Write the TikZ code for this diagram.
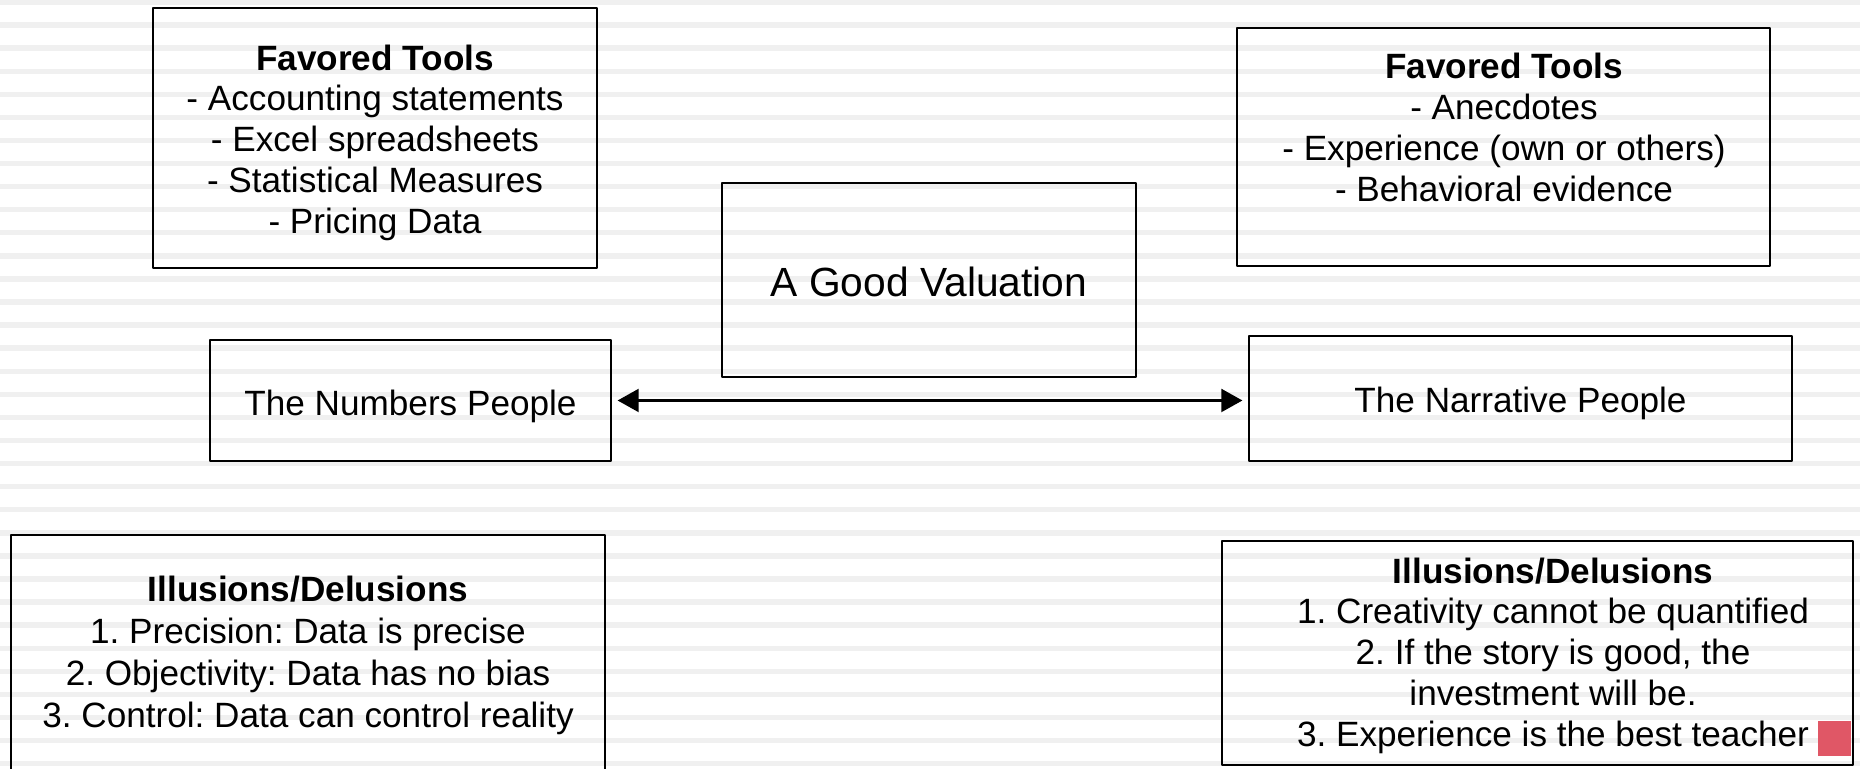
\documentclass[tikz,border=0pt]{standalone}
\usepackage{fontspec}
\setmainfont{Liberation Sans}
\usepackage{tikz}
\usetikzlibrary{calc}
\usetikzlibrary{arrows.meta}
\definecolor{stripegray}{rgb}{0.94,0.94,0.94}
\definecolor{markred}{rgb}{0.878,0.341,0.4}
\tikzset{
  box/.style={draw=black,line width=0.75pt,inner sep=0pt},
  txt/.style={align=center,inner sep=0pt,font=\fontsize{10}{11.6}\selectfont},
  bigtxt/.style={align=center,inner sep=0pt,font=\fontsize{11.6}{13.5}\selectfont}
}
\frenchspacing
\begin{document}
\begin{tikzpicture}[line cap=round,line join=round,>={Triangle[length=6pt,width=6.5pt]},x=1.0cm,y=1.0cm]
            \useasboundingbox (0,0) rectangle (18.6,7.69);
            \clip (0,0) rectangle (18.6,7.69);
            \foreach \k in {0,...,33}
              \fill[color=stripegray] (0,{7.67-0.2308*\k-0.027}) rectangle (18.6,{7.67-0.2308*\k+0.027});
            \node[box,minimum width=4.44cm,minimum height=2.60cm] (toolsL) at (3.75,6.31) {};
            \node[txt] (toolsLtext) at (3.75,6.263) {\textbf{Favored Tools}\\- Accounting statements\\- Excel spreadsheets\\- Statistical Measures\\- Pricing Data};
            \node[box,minimum width=5.33cm,minimum height=2.38cm] (toolsR) at (15.035,6.22) {};
            \node[txt] (toolsRtext) at (15.04,6.415) {\textbf{Favored Tools}\\- Anecdotes\\- Experience (own or others)\\- Behavioral evidence};
            \node[box,minimum width=4.14cm,minimum height=1.94cm] (valuation) at (9.29,4.89) {};
            \node[bigtxt] (valuationtext) at (9.29,4.866) {A Good Valuation};
            \node[box,minimum width=4.01cm,minimum height=1.21cm] (numbers) at (4.105,3.685) {};
            \node[txt] (numberstext) at (4.105,3.626) {The Numbers People};
            \node[box,minimum width=5.43cm,minimum height=1.25cm] (narrative) at (15.205,3.705) {};
            \node[txt] (narrativetext) at (15.205,3.658) {The Narrative People};
            \draw [<->,line width=0.75pt,shorten <=1.5pt,shorten >=1.5pt] (numbers.east) -- (numbers.east -| narrative.west);
            \node[box,minimum width=5.94cm,minimum height=2.37cm] (illusionsL) at (3.08,1.155) {};
            \node[txt,font=\fontsize{10}{12}\selectfont] (illusionsLtext) at (3.08,1.137) {\textbf{Illusions/Delusions}\\1. Precision: Data is precise\\2. Objectivity: Data has no bias\\3. Control: Data can control reality};
            \node[box,minimum width=6.31cm,minimum height=2.24cm] (illusionsR) at (15.375,1.16) {};
            \node[txt] (illusionsRtext) at (15.53,1.135) {\textbf{Illusions/Delusions}\\1. Creativity cannot be quantified\\2. If the story is good, the\\investment will be.\\3. Experience is the best teacher};
            \fill[color=markred] (18.18,0.13) rectangle (18.51,0.48);
\end{tikzpicture}
\end{document}
